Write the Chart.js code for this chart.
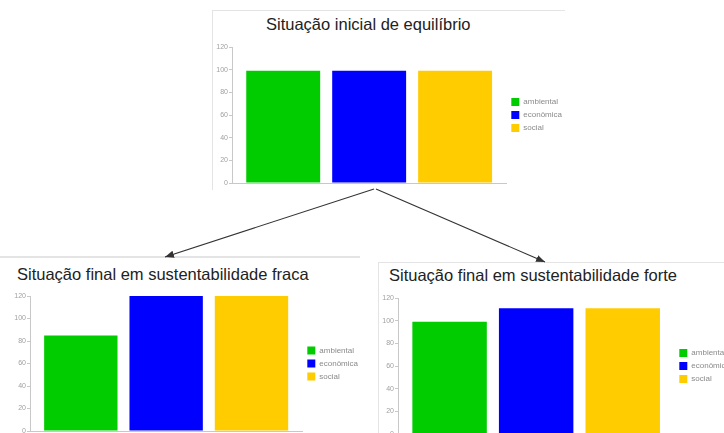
<!DOCTYPE html>
<html lang="pt">
<head>
<meta charset="utf-8">
<title>Sustentabilidade fraca e forte</title>
<script src="https://cdn.jsdelivr.net/npm/chart.js@4.4.1/dist/chart.umd.min.js"></script>
<style>
  html, body { margin: 0; padding: 0; background: #fff; }
  body { width: 724px; height: 433px; position: relative; overflow: hidden;
         font-family: "Liberation Sans", Arial, sans-serif; }
  .frame { position: absolute; border: 0 solid #e4e4e4; }
  .title { position: absolute; font-size: 16.5px; line-height: 16.5px; color: #222; white-space: nowrap; }
  canvas { position: absolute; }
  svg { position: absolute; left: 0; top: 0; }
</style>
</head>
<body>
<!-- panel frames -->
<div class="frame" style="left:212px;top:10px;width:352px;height:179px;border-left-width:1px;border-top-width:1px;"></div>
<div class="frame" style="left:0;top:256px;width:360px;height:180px;border-top-width:2px;"></div>
<div class="frame" style="left:378px;top:262px;width:346px;height:180px;border-left-width:1px;border-top-width:1px;"></div>

<div class="title" style="left:266px;top:16px;">Situação inicial de equilíbrio</div>
<div class="title" style="left:17px;top:266px;">Situação final em sustentabilidade fraca</div>
<div class="title" style="left:389px;top:267px;">Situação final em sustentabilidade forte</div>

<canvas id="inicial" width="360" height="180" style="left:212px;top:10px;"></canvas>
<canvas id="fraca" width="368" height="190" style="left:0;top:257px;"></canvas>
<canvas id="forte" width="362" height="190" style="left:378px;top:262px;"></canvas>

<!-- arrows from the initial situation to the two outcomes -->
<svg width="724" height="433">
  <defs>
    <marker id="head" viewBox="0 0 10 10" refX="10" refY="5" markerWidth="9" markerHeight="9" orient="auto" markerUnits="userSpaceOnUse">
      <path d="M0,1 L10,5 L0,9 Z" fill="#333"/>
    </marker>
  </defs>
  <line x1="374" y1="189" x2="165" y2="257" stroke="#333" stroke-width="1.1" marker-end="url(#head)"/>
  <line x1="376" y1="189" x2="545" y2="262" stroke="#333" stroke-width="1.1" marker-end="url(#head)"/>
</svg>

<script>
// Series shown in every panel
const seriesNames = ['ambiental', 'econômica', 'social'];
const seriesColors = ['#00cc00', '#0000ff', '#ffcc00'];

// Values of each dimension per scenario
const inicialValues = [99, 99, 99];
const fracaValues = [85, 120, 120];
const forteValues = [99, 111, 111];

// Value axis
const yMin = 0;
const yMax = 120;
const yStep = 20;

const FONT = '"Liberation Sans", Arial, sans-serif';

function buildChart(id, values, box) {
  const datasets = seriesNames.map((name, i) => ({
    label: name,
    data: [values[i]],
    backgroundColor: seriesColors[i],
    borderWidth: 0,
    categoryPercentage: 0.94,
    barPercentage: 0.86
  }));
  return new Chart(document.getElementById(id), {
    type: 'bar',
    data: { labels: [''], datasets },
    options: {
      responsive: false,
      animation: false,
      devicePixelRatio: 1,
      layout: { padding: { top: box.top, bottom: box.bottom, left: 0, right: 0 } },
      plugins: {
        title: { display: false },
        tooltip: { enabled: false },
        legend: {
          display: true,
          position: 'right',
          labels: {
            boxWidth: 8,
            boxHeight: 8,
            padding: 5,
            color: '#8a8a8a',
            font: { family: FONT, size: 8 }
          }
        }
      },
      scales: {
        x: {
          grid: { display: false },
          ticks: { display: false },
          border: { display: true, color: '#c8c8c8', width: 1 },
          afterFit: (s) => { s.height = 0; }
        },
        y: {
          min: yMin,
          max: yMax,
          ticks: {
            stepSize: yStep,
            padding: 1,
            color: '#a0a0a0',
            font: { family: FONT, size: 7 }
          },
          grid: {
            display: true,
            drawOnChartArea: false,
            drawTicks: true,
            tickLength: 3,
            color: '#c8c8c8'
          },
          border: { display: true, color: '#c8c8c8', width: 1 },
          afterFit: (s) => { s.width = box.axis; }
        }
      }
    }
  });
}

buildChart('inicial', inicialValues, { top: 37, bottom: 7, axis: 20 });
buildChart('fraca', fracaValues, { top: 39, bottom: 16, axis: 30 });
buildChart('forte', forteValues, { top: 36, bottom: 18, axis: 20 });
</script>
</body>
</html>
